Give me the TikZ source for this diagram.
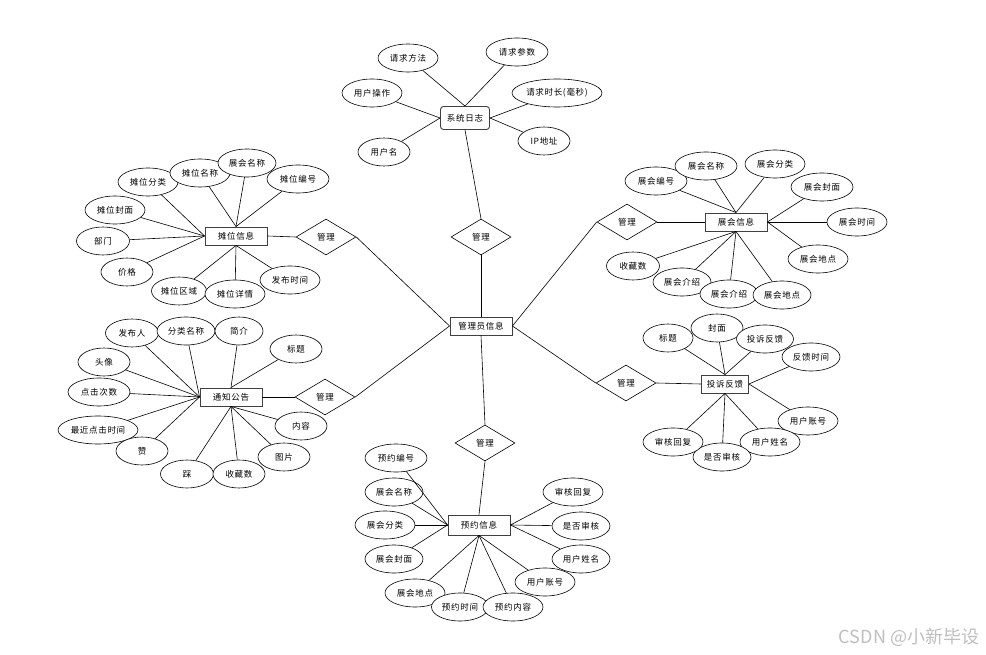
\documentclass[tikz,border=0pt]{standalone}
\usepackage{fontspec}
\setmainfont{Noto Sans CJK SC}
\newfontfamily\cjk[LetterSpace=8]{Noto Sans CJK SC}
\usetikzlibrary{shapes.geometric}

\begin{document}
\begin{tikzpicture}[x=1pt, y=-1pt,
        every node/.style={font=\cjk\fontsize{8.5}{9}\selectfont, inner sep=0pt},
        entity/.style={draw=black!75, line width=0.9pt, fill=white, minimum width=62, minimum height=18},
        attr/.style={draw, ellipse, line width=0.6pt, fill=white, minimum width=60, minimum height=28},
        rel/.style={draw, diamond, line width=0.6pt, fill=white, minimum width=60, minimum height=36},
        link/.style={line width=0.6pt}
    ]
        \path[fill=white, use as bounding box] (0,0) rectangle (986,655);

        % entities
        \node[entity] (admin) at (481,326) {管理员信息};
        \node[entity, rounded corners=3pt, minimum width=49, minimum height=23] (log) at (465,118) {系统日志};
        \node[entity] (tw) at (236,236) {摊位信息};
        \node[entity] (tz) at (231,397) {通知公告};
        \node[entity] (zh) at (736,222) {展会信息};
        \node[entity, minimum width=47] (ts) at (725,384) {投诉反馈};
        \node[entity, minimum height=20] (yy) at (479,525) {预约信息};

        % relations
        \node[rel] (r1) at (481,237) {管理};
        \node[rel] (r2) at (326,237) {管理};
        \node[rel] (r3) at (325,397) {管理};
        \node[rel] (r4) at (627,222) {管理};
        \node[rel] (r5) at (626,383) {管理};
        \node[rel] (r6) at (485,443) {管理};

        % attributes
        \foreach \n/\x/\y/\w/\t in {
            lg1/408/58/60/请求方法, lg2/517/52/62/请求参数, lg3/372/93/60/用户操作,
            lg4/557/93/90/{请求时长(毫秒)}, lg5/544/141/52/IP地址, lg6/384/152/52/用户名,
            tw1/148/182/60/摊位分类, tw2/200/173/60/摊位名称, tw3/247/163/58/展会名称,
            tw4/298/179/62/摊位编号, tw5/115/210/60/摊位封面, tw6/103/241/53/部门,
            tw7/127/272/52/价格, tw8/179/291/55/摊位区域, tw9/235/294/60/摊位详情,
            tw10/290/280/60/发布时间,
            tz1/132/333/53/发布人, tz2/186/331/58/分类名称, tz3/239/331/48/简介,
            tz4/296/349/52/标题, tz5/104/362/52/头像, tz6/99/392/62/点击次数,
            tz7/98/430/80/最近点击时间, tz8/142/451/52/赞, tz9/187/474/53/踩,
            tz10/239/474/52/收藏数, tz11/284/457/52/图片, tz12/301/426/52/内容,
            zh1/656/181/62/展会编号, zh2/706/166/62/展会名称, zh3/775/164/60/展会分类,
            zh4/822/187/62/展会封面, zh5/857/222/60/展会时间, zh6/818/259/60/展会地点,
            zh7/633/266/53/收藏数, zh8/682/282/58/展会介绍, zh9/729/294/58/展会介绍,
            zh10/782/295/58/展会地点,
            ts1/668/338/50/标题, ts2/717/328/52/封面, ts3/765/339/57/投诉反馈,
            ts4/811/357/58/反馈时间, ts5/808/421/60/用户账号, ts6/770/442/60/用户姓名,
            ts7/722/457/58/是否审核, ts8/673/442/60/审核回复,
            yy1/396/458/62/预约编号, yy2/394/492/58/展会名称, yy3/385/525/60/展会分类,
            yy4/394/559/58/展会封面, yy5/415/593/60/展会地点, yy6/460/607/57/预约时间,
            yy7/513/607/60/预约内容, yy8/545/582/60/用户账号, yy9/581/559/58/用户姓名,
            yy10/581/526/58/是否审核, yy11/573/492/60/审核回复}
        {
            \node[attr, minimum width=\w] (\n) at (\x,\y) {\t};
        }

        % attribute links
        \foreach \a/\b in {
            lg1/log.north, lg2/log.north, lg3/log.west, lg6/log.west, lg4/log.east, lg5/log.east,
            tw1/tw.west, tw5/tw.west, tw6/tw.west, tw7/tw.west, tw2/tw.north, tw3/tw.north,
            tw4/tw.north, tw8/tw.south, tw9/tw.south, tw10/tw.south,
            tz1/tz.west, tz2/tz.west, tz5/tz.west, tz6/tz.west, tz7/tz.west, tz8/tz.west,
            tz3/tz.north, tz4/tz.north, tz9/tz.south, tz10/tz.south, tz11/tz.south, tz12/tz.south,
            zh1/zh.north, zh2/zh.north, zh3/zh.north, zh4/zh.east, zh5/zh.east, zh6/zh.east,
            zh7/zh.south, zh8/zh.south, zh9/zh.south, zh10/zh.south,
            ts1/ts.north, ts2/ts.north, ts3/ts.north, ts4/ts.east, ts5/ts.east,
            ts6/ts.south, ts7/ts.south, ts8/ts.south,
            yy1/yy.west, yy2/yy.west, yy3/yy.west, yy4/yy.west, yy5/yy.south, yy6/yy.south,
            yy7/yy.south, yy8/yy.south, yy9/yy.east, yy10/yy.east, yy11/yy.east}
        {
            \draw[link] (\a) -- (\b);
        }

        % relation links
        \draw[link] (log.south) -- (r1.north);
        \draw[link] (r1.south) -- (admin.north);
        \draw[link] (tw.east) -- (r2.west);
        \draw[link] (r2.east) -- (admin.west);
        \draw[link] (tz.east) -- (r3.west);
        \draw[link] (r3.east) -- (admin.west);
        \draw[link] (zh.west) -- (r4.east);
        \draw[link] (r4.west) -- (admin.east);
        \draw[link] (ts.west) -- (r5.east);
        \draw[link] (r5.west) -- (admin.east);
        \draw[link] (admin.south) -- (r6.north);
        \draw[link] (r6.south) -- (yy.north);

        \node[font=\fontsize{18}{20}\selectfont, text=black!25] (mark) at (909,637) {CSDN @小新毕设};
    \end{tikzpicture}
\end{document}
